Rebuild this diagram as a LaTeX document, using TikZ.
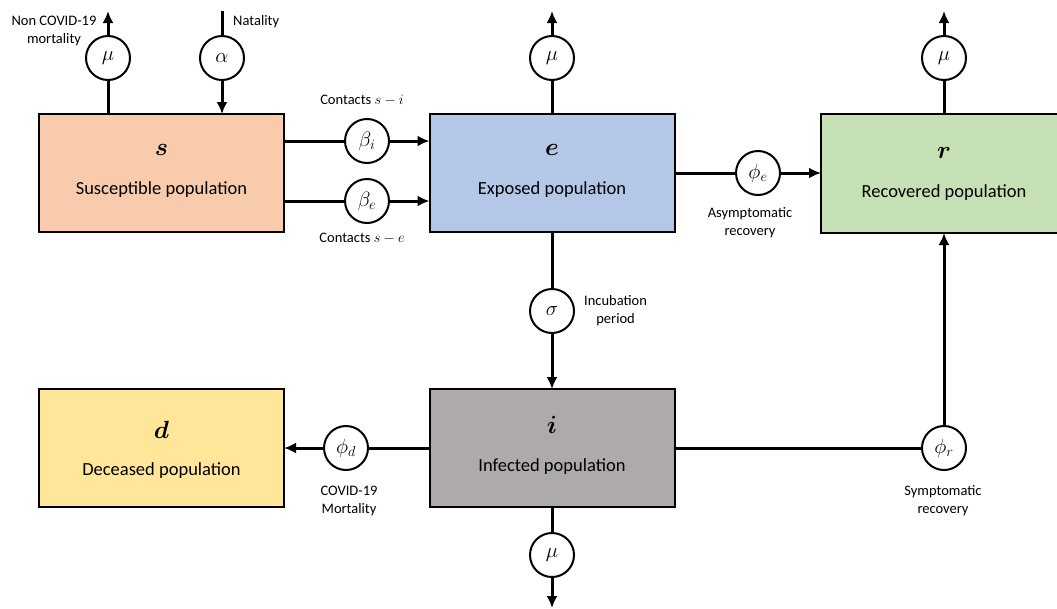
\documentclass[tikz,border=0pt]{standalone}
\usepackage{fontspec}
\setmainfont{Carlito}
\usepackage{amsmath,bm}
\usetikzlibrary{arrows.meta,calc}
\definecolor{cpeach}{HTML}{F8CBAD}
\definecolor{cblue}{HTML}{B4C7E7}
\definecolor{cgreen}{HTML}{C5E0B4}
\definecolor{cyellow}{HTML}{FFE699}
\definecolor{cgray}{HTML}{AEAAAA}
\tikzset{
  popbox/.style={draw=black,line width=2pt,minimum width=245pt,minimum height=118pt,inner sep=0pt,outer sep=0pt},
  rate/.style={circle,draw=black,line width=2pt,fill=white,minimum size=44pt,inner sep=0pt,font=\fontsize{22}{22}\selectfont},
  letter/.style={font=\fontsize{31}{31}\selectfont,inner sep=0pt},
  poplabel/.style={font=\fontsize{18.5}{18.5}\selectfont,inner sep=0pt},
  note/.style={font=\fontsize{14.5}{18}\selectfont,align=center,inner sep=0pt},
  flow/.style={line width=3pt},
  flowarrow/.style={line width=3pt,-{Latex[length=12pt,width=11pt]}}
}
\begin{document}
\begin{tikzpicture}[x=1pt,y=-1pt]
\clip (0,0) rectangle (1057,608);
\fill[white] (0,0) rectangle (1057,608);
% boxes
\node[popbox,fill=cpeach] (s) at (161.5,173) {};
\node[popbox,fill=cblue] (e) at (552,173) {};
\node[popbox,fill=cgreen,minimum width=246pt,minimum height=119pt] (r) at (944,173.5) {};
\node[popbox,fill=cyellow] (d) at (161.5,448) {};
\node[popbox,fill=cgray] (i) at (552,448) {};
% box texts
\node[letter] (sl) at ([yshift=23pt]s.center) {$\bm{s}$};
\node[poplabel] (st) at ([yshift=-17pt]s.center) {Susceptible population};
\node[letter] (el) at ([yshift=23pt]e.center) {$\bm{e}$};
\node[poplabel] (et) at ([yshift=-17pt]e.center) {Exposed population};
\node[letter] (rl) at ([yshift=21pt]r.center) {$\bm{r}$};
\node[poplabel] (rt) at ([yshift=-19pt]r.center) {Recovered population};
\node[letter] (dl) at ([yshift=18pt]d.center) {$\bm{d}$};
\node[poplabel] (dt) at ([yshift=-23pt]d.center) {Deceased population};
\node[letter] (il) at ([yshift=23pt]i.center) {$\bm{i}$};
\node[poplabel] (it) at ([yshift=-19pt]i.center) {Infected population};
% rate circles
\node[rate] (mus) at (108,58) {$\mu$};
\node[rate] (al) at (222,58) {$\alpha$};
\node[rate] (bi) at (367,141) {$\beta_i$};
\node[rate] (be) at (367,201) {$\beta_e$};
\node[rate] (mue) at (552,58) {$\mu$};
\node[rate] (phe) at (758,173) {$\phi_e$};
\node[rate] (mur) at (944,58) {$\mu$};
\node[rate] (sig) at (552,311) {$\sigma$};
\node[rate] (phd) at (346,448) {$\phi_d$};
\node[rate] (phr) at (944,448) {$\phi_r$};
\node[rate] (mui) at (552,555) {$\mu$};
% free ends
\coordinate (mustop) at (108,11);
\coordinate (altop) at (222,11);
\coordinate (muetop) at (552,11);
\coordinate (murtop) at (944,11);
\coordinate (muibot) at (552,608);
% connectors
\draw[flow] (s.north -| mus) -- (mus);
\draw[flowarrow] (mus) -- (mustop);
\draw[flow] (altop) -- (al);
\draw[flowarrow] (al) -- (s.north -| al);
\draw[flow] (s.east |- bi) -- (bi);
\draw[flowarrow] (bi) -- (e.west |- bi);
\draw[flow] (s.east |- be) -- (be);
\draw[flowarrow] (be) -- (e.west |- be);
\draw[flow] (e.north) -- (mue);
\draw[flowarrow] (mue) -- (muetop);
\draw[flow] (e.east |- phe) -- (phe);
\draw[flowarrow] (phe) -- (r.west |- phe);
\draw[flow] (r.north -| mur) -- (mur);
\draw[flowarrow] (mur) -- (murtop);
\draw[flow] (e.south) -- (sig);
\draw[flowarrow] (sig) -- (i.north);
\draw[flow] (i.west |- phd) -- (phd);
\draw[flowarrow] (phd) -- (d.east |- phd);
\draw[flow] (i.east |- phr) -- (phr);
\draw[flowarrow] (phr) -- (r.south -| phr);
\draw[flow] (i.south) -- (mui);
\draw[flowarrow] (mui) -- (muibot);
% notes
\node[note] (n1) at (54,31) {Non COVID-19\\mortality};
\node[note,anchor=west] (n2) at (233,22) {Natality};
\node[note] (n3) at (362,100) {Contacts $s-i$};
\node[note] (n4) at (362,238) {Contacts $s-e$};
\node[note] (n5) at (750,223) {Asymptomatic\\recovery};
\node[note,anchor=west] (n6) at (584,311) {Incubation\\period};
\node[note] (n7) at (349,501) {COVID-19\\Mortality};
\node[note] (n8) at (943,501) {Symptomatic\\recovery};
\end{tikzpicture}
\end{document}
